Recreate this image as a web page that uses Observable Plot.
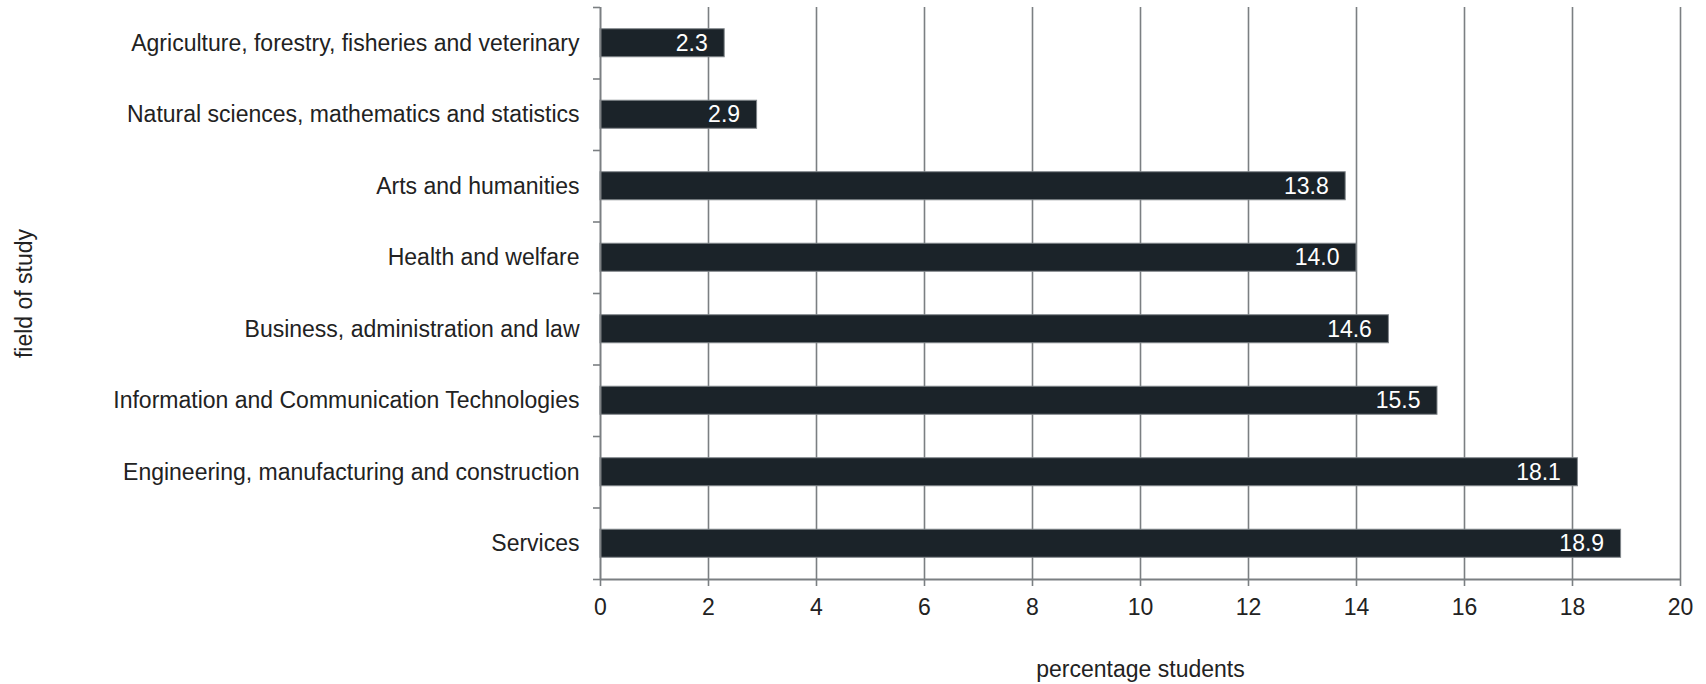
<!DOCTYPE html>
<html>
<head>
<meta charset="utf-8">
<script src="https://cdn.jsdelivr.net/npm/d3@7"></script>
<script src="https://cdn.jsdelivr.net/npm/@observablehq/plot@0.6"></script>
<style>
  html, body { margin: 0; padding: 0; background: #fff; }
  #chart svg { display: block; }
</style>
</head>
<body>
<div id="chart"></div>
<script>
const categories = [
  "Agriculture, forestry, fisheries and veterinary",
  "Natural sciences, mathematics and statistics",
  "Arts and humanities",
  "Health and welfare",
  "Business, administration and law",
  "Information and Communication Technologies",
  "Engineering, manufacturing and construction",
  "Services"
];
const values = [2.3, 2.9, 13.8, 14.0, 14.6, 15.5, 18.1, 18.9];
const xTicks = [0, 2, 4, 6, 8, 10, 12, 14, 16, 18, 20];
const xLabel = "percentage students";
const yLabel = "field of study";

const rows = categories.map((c, i) => ({category: c, index: i, value: values[i]}));
const positions = categories.map((c, i) => i);
const boundaries = [-0.5, ...positions.map(i => i + 0.5)];
const half = 0.196;

const grid = "#7b7f82";
const ink = "#222222";
const font = "Liberation Sans, Arial, sans-serif";
const fs = 23;

const chart = Plot.plot({
  width: 1706,
  height: 684,
  marginTop: 7,
  marginBottom: 105,
  marginLeft: 600,
  marginRight: 26,
  style: {fontFamily: font, fontSize: fs + "px", color: ink, background: "#fff"},
  x: {domain: [0, 20]},
  y: {domain: [-0.5, categories.length - 0.5], reverse: true},
  marks: [
    Plot.ruleX(xTicks.filter(d => d > 0), {y1: -0.5, y2: categories.length - 0.5, stroke: grid, strokeWidth: 1.6}),
    Plot.rectX(rows, {x1: 0, x2: "value", y1: d => d.index - half, y2: d => d.index + half, fill: "#1b2329", stroke: "#80868a", strokeWidth: 1}),
    Plot.text(rows, {x: "value", y: "index", text: d => d.value.toFixed(1), textAnchor: "end", dx: -17, fill: "#ffffff", fontSize: fs}),
    Plot.ruleX([0], {y1: -0.5, y2: categories.length - 0.5, stroke: grid, strokeWidth: 2}),
    Plot.ruleY([categories.length - 0.5], {x1: 0, x2: 20, stroke: grid, strokeWidth: 2}),
    Plot.axisY({ticks: boundaries, tickSize: 7, tickFormat: () => "", stroke: grid, strokeWidth: 1.6, label: null}),
    Plot.axisY({ticks: positions, tickSize: 0, tickPadding: 21, tickFormat: i => categories[i], fill: ink, fontSize: fs,
      label: yLabel, labelAnchor: "center", labelOffset: 585, labelArrow: "none"}),
    Plot.axisX({ticks: xTicks, tickSize: 7, tickPadding: 12, stroke: grid, strokeWidth: 1.6, fill: ink, fontSize: fs,
      label: xLabel, labelAnchor: "center", labelOffset: 97, labelArrow: "none"})
  ]
});
document.getElementById("chart").appendChild(chart);
</script>
</body>
</html>
